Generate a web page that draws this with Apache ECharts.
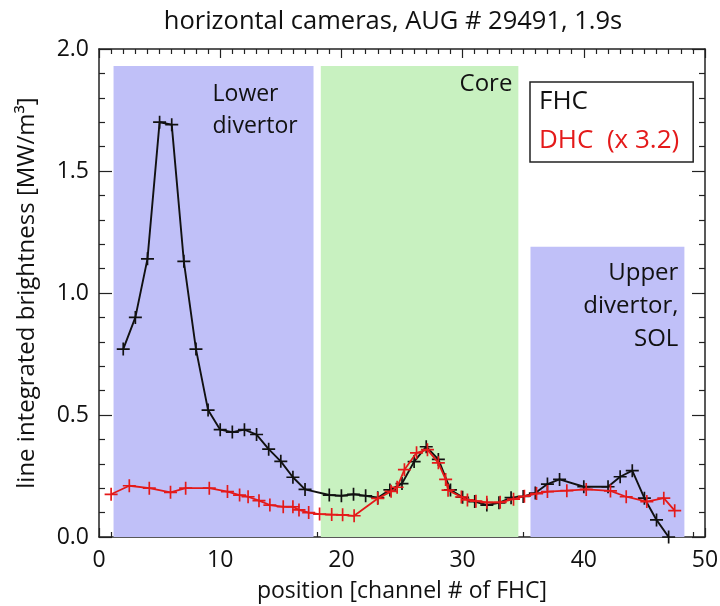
<!DOCTYPE html>
<html>
<head>
<meta charset="utf-8">
<script src="https://cdn.jsdelivr.net/npm/echarts@6/dist/echarts.min.js"></script>
<style>html,body{margin:0;padding:0;background:#fff}#c{width:720px;height:606px}</style>
</head>
<body>
<div id="c"></div>
<script>
// ---- data ----
const fhcX = [2,3,4,5,6,7,8,9,10,11,12,13,14,15,16,17,19,20,21,22,23,24,25,26,27,28,29,30,31,32,33,34,35,36,37,38,40,42,43,44,45,46,47];
const fhcY = [0.77,0.90,1.14,1.70,1.69,1.13,0.77,0.52,0.44,0.43,0.44,0.42,0.36,0.31,0.245,0.195,0.172,0.169,0.175,0.169,0.161,0.193,0.219,0.309,0.37,0.318,0.193,0.163,0.145,0.131,0.14,0.161,0.166,0.18,0.217,0.236,0.206,0.206,0.247,0.272,0.159,0.07,0.0];
const dhcX = [1.0,2.5,4.15,5.9,7.15,9.1,10.6,11.6,12.3,13.2,14.1,15.2,16.0,16.5,17.3,18.2,19.2,20.1,21.05,23.0,24.1,24.6,25.2,26.2,27.1,28.0,28.6,28.8,29.9,30.4,31.1,32.0,33.1,34.2,35.1,36.1,37.0,38.6,40.2,42.2,43.5,45.2,46.6,47.5];
const dhcY = [0.175,0.21,0.20,0.183,0.20,0.20,0.186,0.172,0.165,0.149,0.131,0.124,0.124,0.111,0.100,0.094,0.092,0.091,0.087,0.158,0.187,0.204,0.276,0.345,0.358,0.304,0.236,0.192,0.164,0.152,0.147,0.142,0.142,0.155,0.167,0.178,0.186,0.190,0.195,0.189,0.165,0.145,0.159,0.108];
const regionNames = ['Lower\ndivertor', 'Core', 'Upper\ndivertor,\nSOL'];
const regionX0 = [1.2, 18.3, 35.6];
const regionX1 = [17.7, 34.6, 48.3];
const regionTop = [1.93, 1.93, 1.19];
const xTicks = [0, 10, 20, 30, 40, 50];
const yTicks = [0.0, 0.5, 1.0, 1.5, 2.0];
const seriesNames = ['FHC', 'DHC  (x 3.2)'];

// ---- styles ----
const FONT = 'Open Sans';
const regionColors = ['#c0c0f8', '#c8f1c0', '#c0c0f8'];
const regionLabels = [
  {position: [99, 12], align: 'left', verticalAlign: 'top', lineHeight: 32, fontSize: 23},
  {position: 'insideTopRight', distance: 6, offset: [0, -4], lineHeight: 32, fontSize: 24},
  {position: 'insideTopRight', distance: 6, offset: [0, 4], lineHeight: 33, align: 'right', fontSize: 24}
];
const plus = 'path://M-0.13,-1 L0.13,-1 L0.13,-0.13 L1,-0.13 L1,0.13 L0.13,0.13 L0.13,1 L-0.13,1 L-0.13,0.13 L-1,0.13 L-1,-0.13 L-0.13,-0.13 Z';

const chart = echarts.init(document.getElementById('c'), null, {renderer: 'canvas'});

function xAxisDef(pos, showLabel) {
  return {
    type: 'value', position: pos, min: xTicks[0], max: xTicks[xTicks.length-1], interval: xTicks[1]-xTicks[0],
    name: showLabel ? 'position [channel # of FHC]' : '', nameLocation: 'middle', nameGap: 43,
    nameTextStyle: {fontFamily: FONT, fontSize: 23, color: '#111'},
    axisLine: {show: true, onZero: false, lineStyle: {color: '#222', width: 1.5}},
    axisTick: {show: true, inside: true, length: 9, lineStyle: {color: '#222', width: 1.2}},
    minorTick: {show: true, splitNumber: 10, length: 5, lineStyle: {color: '#222', width: 1.2}},
    axisLabel: {show: showLabel, fontFamily: FONT, fontSize: 23, color: '#111', margin: 12},
    splitLine: {show: false}
  };
}
function yAxisDef(pos, showLabel) {
  return {
    type: 'value', position: pos, min: yTicks[0], max: yTicks[yTicks.length-1], interval: yTicks[1]-yTicks[0],
    name: showLabel ? 'line integrated brightness [MW/m³]' : '', nameLocation: 'middle', nameGap: 60,
    nameTextStyle: {fontFamily: FONT, fontSize: 24, color: '#111'},
    axisLine: {show: true, onZero: false, lineStyle: {color: '#222', width: 1.5}},
    axisTick: {show: true, inside: true, length: 13, lineStyle: {color: '#222', width: 1.2}},
    minorTick: {show: true, splitNumber: 5, length: 6, lineStyle: {color: '#222', width: 1.2}},
    axisLabel: {show: showLabel, fontFamily: FONT, fontSize: 23, color: '#111', margin: 10,
      formatter: v => v.toFixed(1)},
    splitLine: {show: false}
  };
}

const areas = regionNames.map((n, i) => [
  {name: n, xAxis: regionX0[i], yAxis: 0,
   itemStyle: {color: regionColors[i], opacity: 1},
   label: Object.assign({show: true, color: '#111', fontFamily: FONT}, regionLabels[i])},
  {xAxis: regionX1[i], yAxis: regionTop[i]}
]);

chart.setOption({
  animation: false,
  backgroundColor: '#fff',
  title: {text: 'horizontal cameras, AUG # 29491, 1.9s', left: 388, textAlign: 'center', top: 4,
    textStyle: {fontFamily: FONT, fontSize: 25.5, fontWeight: 'normal', color: '#111'}},
  grid: {left: 99, right: 15, top: 49, bottom: 69, outerBoundsMode: 'none', containLabel: false},
  xAxis: [xAxisDef('bottom', true), xAxisDef('top', false)],
  yAxis: [yAxisDef('left', true), yAxisDef('right', false)],
  legend: {
    orient: 'vertical', left: 530, top: 82,
    data: [
      {name: seriesNames[0], textStyle: {color: '#111'}},
      {name: seriesNames[1], textStyle: {color: '#e41a1a'}}
    ],
    icon: 'none', itemWidth: 0, itemHeight: 0, itemGap: 13,
    textStyle: {fontFamily: FONT, fontSize: 26, padding: 0},
    borderColor: '#222', borderWidth: 1.5, borderRadius: 0,
    padding: [7, 14, 8, 4], backgroundColor: '#fff', selectedMode: false
  },
  series: [
    {type: 'line', name: '_regions', data: [], z: 1, silent: true,
     markArea: {silent: true, data: areas}},
    {type: 'line', name: seriesNames[0], z: 3, xAxisIndex: 0, yAxisIndex: 0,
     data: fhcX.map((x, i) => [x, fhcY[i]]),
     symbol: plus, symbolSize: 13, showAllSymbol: true,
     lineStyle: {color: '#111', width: 1.9}, itemStyle: {color: '#111'}},
    {type: 'line', name: seriesNames[1], z: 4, xAxisIndex: 0, yAxisIndex: 0,
     data: dhcX.map((x, i) => [x, dhcY[i]]),
     symbol: plus, symbolSize: 13, showAllSymbol: true,
     lineStyle: {color: '#e41a1a', width: 1.8}, itemStyle: {color: '#e41a1a'}}
  ]
});
</script>
</body>
</html>
